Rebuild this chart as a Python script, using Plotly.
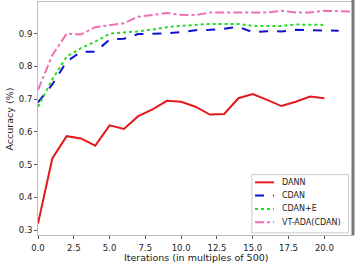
import plotly.graph_objects as go

# Genauigkeit je Iteration (x in Vielfachen von 500)
dann = [0.320, 0.519, 0.587, 0.580, 0.558, 0.620, 0.609, 0.648, 0.669, 0.695, 0.692,
        0.677, 0.653, 0.655, 0.703, 0.716, 0.698, 0.679, 0.692, 0.708, 0.703]
cdan = [0.690, 0.745, 0.815, 0.845, 0.845, 0.882, 0.885, 0.899, 0.900, 0.901, 0.905,
        0.911, 0.912, 0.915, 0.921, 0.905, 0.908, 0.907, 0.912, 0.912, 0.910, 0.909]
cdan_e = [0.677, 0.760, 0.830, 0.856, 0.876, 0.900, 0.904, 0.907, 0.913, 0.920, 0.924,
          0.928, 0.930, 0.930, 0.930, 0.924, 0.924, 0.924, 0.928, 0.928, 0.927]
vt_ada = [0.728, 0.835, 0.900, 0.898, 0.920, 0.927, 0.932, 0.952, 0.957, 0.963, 0.958,
          0.957, 0.965, 0.966, 0.965, 0.965, 0.965, 0.970, 0.965, 0.965, 0.970, 0.969, 0.968]

series = [
    ("DANN", dann, "#e31a1c", "solid"),
    ("CDAN", cdan, "#1010d0", "dash"),
    ("CDAN+E", cdan_e, "#22dd22", "dot"),
    ("VT-ADA(CDAN)", vt_ada, "#ee6fb4", "dashdot"),
]

fig = go.Figure()
for name, vals, color, dash in series:
    fig.add_trace(go.Scatter(
        x=list(range(len(vals))), y=vals, name=name, mode="lines",
        line=dict(color=color, width=2, dash=dash), showlegend=False,
    ))

axis_common = dict(
    showgrid=False, zeroline=False, showline=True, linecolor="#bbbbbb", linewidth=1,
    ticks="outside", ticklen=3, tickcolor="#555555", mirror=True,
    tickfont=dict(size=8.5, color="#222222"),
)
fig.update_xaxes(range=[0, 22], tick0=0, dtick=2.5, tickformat=".1f",
                 ticklabelstandoff=2, **axis_common)
fig.update_yaxes(range=[0.285, 0.997], tick0=0.3, dtick=0.1, tickformat=".1f", **axis_common)

# Achsentitel als Annotationen, damit die Position passt
fig.add_annotation(text="Iterations (in multiples of 500)", xref="paper", yref="paper",
                   x=0.5, y=-0.097, xanchor="center", yanchor="middle", showarrow=False,
                   font=dict(size=9.5, color="#222222"))
fig.add_annotation(text="Accuracy (%)", xref="paper", yref="paper", textangle=-90,
                   x=-0.089, y=0.5, xanchor="center", yanchor="middle", showarrow=False,
                   font=dict(size=9.5, color="#222222"))

# dunkler Rand rechts wie im Original
fig.add_shape(type="line", xref="paper", yref="paper", x0=1, x1=1, y0=0, y1=1.01,
              line=dict(color="#777777", width=3))

# Legende von Hand (Plotly-Legende ist zu hoch), im matplotlib-Stil
fig.add_shape(type="rect", xref="paper", yref="paper", x0=0.679, x1=0.986, y0=0.009, y1=0.259,
              line=dict(color="#cccccc", width=1), fillcolor="white")
row_y = [0.226, 0.169, 0.112, 0.0545]
for (name, _, color, dash), ry in zip(series, row_y):
    fig.add_shape(type="line", xref="paper", yref="paper", x0=0.689, x1=0.749, y0=ry, y1=ry,
                  line=dict(color=color, width=2, dash=dash))
    fig.add_annotation(text=name, xref="paper", yref="paper", x=0.768, y=ry,
                       xanchor="left", yanchor="middle", showarrow=False,
                       font=dict(size=8, color="#222222"))

fig.update_layout(
    width=362, height=268,
    margin=dict(l=38, r=9, t=2, b=33),
    paper_bgcolor="white", plot_bgcolor="white",
    font=dict(family="DejaVu Sans", size=8, color="#222222"),
    showlegend=False,
)

# Body-Rand des Browsers entfernen, sonst sitzt alles 8px versetzt
fig.write_html("out.html", config={"displayModeBar": False},
               post_script="document.body.style.margin='0px';")
